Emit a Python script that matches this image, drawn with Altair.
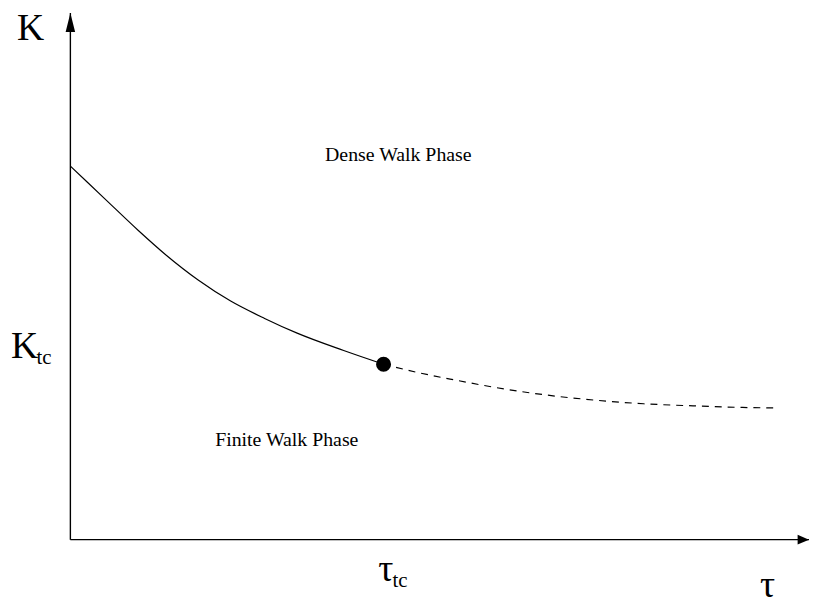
import altair as alt
import pandas as pd

# Phase boundary, solid part (first-order line)
solid_tau = [0.0, 0.46, 0.92, 1.29, 1.73, 2.17, 2.63, 3.07, 3.70, 4.24]
solid_k = [7.09, 6.48, 5.87, 5.41, 4.93, 4.53, 4.20, 3.92, 3.59, 3.33]

# Phase boundary, dashed part
dash_tau = [4.24, 4.68, 5.21, 5.75, 6.42, 7.09, 7.76, 8.43, 9.10, 9.54]
dash_k = [3.33, 3.18, 3.03, 2.89, 2.75, 2.65, 2.58, 2.54, 2.51, 2.50]

# Tricritical point
crit_tau = [4.24]
crit_k = [3.33]

# Phase labels
phase_text = ["Dense Walk Phase", "Finite Walk Phase"]
phase_tau = [4.44, 2.93]
phase_k = [7.18, 1.77]

# Big symbols
sym_text = ["K", "K", "τ", "τ"]
sym_tau = [-0.54, -0.62, 4.27, 9.44]
sym_k = [9.49, 3.44, -0.79, -1.09]

# Subscripts
sub_text = ["tc", "tc"]
sub_tau = [-0.46, 4.36]
sub_k = [3.33, -0.90]

# Axis extents
axis_max_tau = 10
axis_max_k = 10

FONT = "Liberation Serif"

xs = alt.Scale(domain=[0, axis_max_tau], nice=False, zero=False)
ys = alt.Scale(domain=[0, axis_max_k], nice=False, zero=False)


def X(field="tau"):
    return alt.X(f"{field}:Q", scale=xs, axis=None)


def Y(field="k"):
    return alt.Y(f"{field}:Q", scale=ys, axis=None)


solid_df = pd.DataFrame({"tau": solid_tau, "k": solid_k})
dash_df = pd.DataFrame({"tau": dash_tau, "k": dash_k})
crit_df = pd.DataFrame({"tau": crit_tau, "k": crit_k})
phase_df = pd.DataFrame({"tau": phase_tau, "k": phase_k, "t": phase_text})
sym_df = pd.DataFrame({"tau": sym_tau, "k": sym_k, "t": sym_text})
sub_df = pd.DataFrame({"tau": sub_tau, "k": sub_k, "t": sub_text})

xaxis_df = pd.DataFrame({"tau": [0], "tau2": [axis_max_tau], "k": [0]})
yaxis_df = pd.DataFrame({"tau": [0], "k": [0], "k2": [axis_max_k]})
yarrow_df = pd.DataFrame({"tau": [0], "k": [axis_max_k]})
xarrow_df = pd.DataFrame({"tau": [axis_max_tau], "k": [0]})

x_axis = alt.Chart(xaxis_df).mark_rule(color="black", strokeWidth=1.4).encode(
    x=X(), x2="tau2:Q", y=Y()
)
y_axis = alt.Chart(yaxis_df).mark_rule(color="black", strokeWidth=1.4).encode(
    x=X(), y=Y(), y2="k2:Q"
)
y_arrow = alt.Chart(yarrow_df).mark_point(
    filled=True, color="black", opacity=1, size=400, strokeWidth=0,
    shape="M0,0L0.48,1.93L-0.48,1.93Z",
).encode(x=X(), y=Y())
x_arrow = alt.Chart(xarrow_df).mark_point(
    filled=True, color="black", opacity=1, size=400, strokeWidth=0,
    shape="M0,0L-1.15,-0.5L-1.15,0.5Z",
).encode(x=X(), y=Y())

solid = alt.Chart(solid_df).mark_line(
    color="black", strokeWidth=1.2, interpolate="monotone"
).encode(x=X(), y=Y())
dashed = alt.Chart(dash_df).mark_line(
    color="black", strokeWidth=1.2, strokeDash=[7, 6], interpolate="monotone"
).encode(x=X(), y=Y())
crit = alt.Chart(crit_df).mark_point(
    filled=True, color="black", opacity=1, size=230, shape="circle"
).encode(x=X(), y=Y())

phase = alt.Chart(phase_df).mark_text(
    font=FONT, fontSize=20, align="center", baseline="alphabetic", color="black"
).encode(x=X(), y=Y(), text="t:N")
sym = alt.Chart(sym_df).mark_text(
    font=FONT, fontSize=38, align="center", baseline="alphabetic", color="black"
).encode(x=X(), y=Y(), text="t:N")
sub = alt.Chart(sub_df).mark_text(
    font=FONT, fontSize=21, align="left", baseline="alphabetic", color="black"
).encode(x=X(), y=Y(), text="t:N")

chart = alt.layer(
    x_axis, y_axis, y_arrow, x_arrow, solid, dashed, crit, phase, sym, sub
).properties(
    width=746,
    height=532,
    padding={"left": 63, "top": 2, "right": 0, "bottom": 58},
    autosize=alt.AutoSizeParams(type="none"),
    background="white",
).configure_view(stroke=None)

chart.save("out.html", embed_options={"renderer": "svg", "actions": False})
